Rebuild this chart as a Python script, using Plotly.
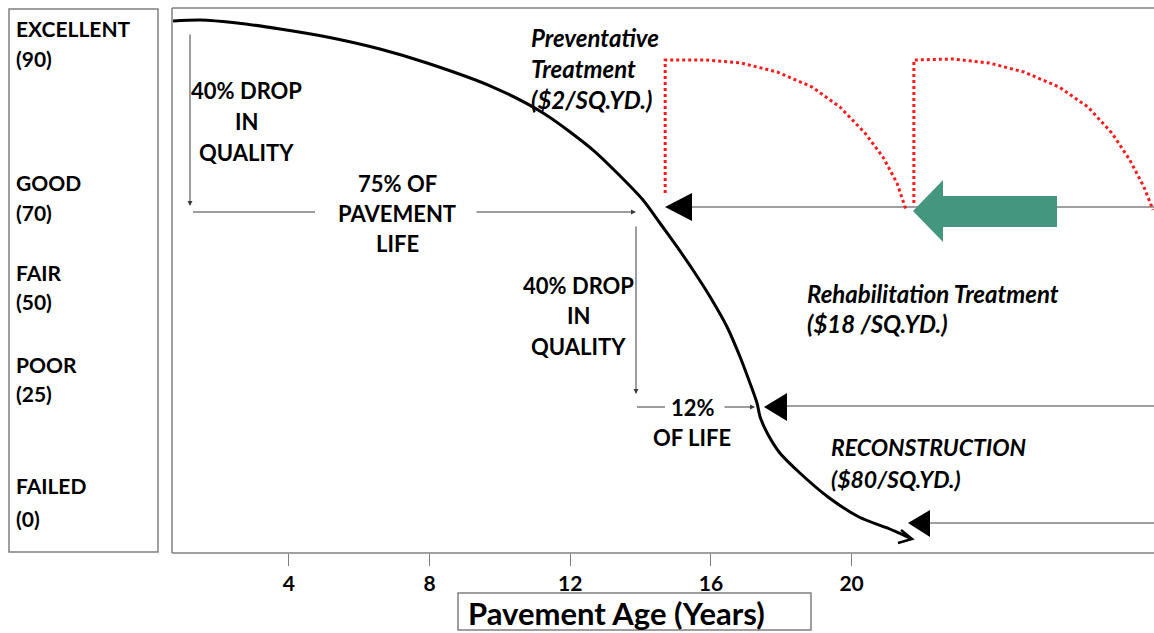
import plotly.graph_objects as go

# ---------------- data ----------------
condition_labels = ["EXCELLENT", "GOOD", "FAIR", "POOR", "FAILED"]
condition_values = [90, 70, 50, 25, 0]
tick_years = [4, 8, 12, 16, 20]

# main deterioration curve (age in years, condition index on a 0-100 plot scale)
curve_age = [0.71, 1.48, 2.53, 3.75, 5.09, 6.59, 7.93, 9.80, 11.23, 12.65, 13.42, 14.07,
             14.55, 15.04, 15.49, 15.98, 16.46, 16.83, 17.11, 17.31, 17.40, 17.60, 17.96, 18.53,
             19.33, 20.21, 21.01, 21.66]
curve_cond = [97.61, 97.80, 97.25, 96.15, 94.68, 92.48, 89.91, 85.50, 80.73, 73.94, 69.17, 64.77,
              60.55, 56.15, 51.93, 46.97, 41.47, 35.96, 31.19, 27.52, 24.95, 22.02, 18.35, 14.68,
              10.28, 6.61, 4.59, 2.75]

# preventative treatment cycles (red dotted)
prev1_age = [14.70, 14.70, 15.86, 16.86, 17.88, 18.88, 19.67, 20.38, 20.89, 21.29, 21.55]
prev1_cond = [66.06, 90.46, 90.46, 89.91, 88.26, 85.50, 81.83, 77.06, 72.66, 67.89, 62.94]
prev2_age = [21.77, 21.77, 22.88, 23.91, 24.90, 25.90, 26.72, 27.40, 27.91, 28.31, 28.57]
prev2_cond = [64.22, 90.46, 90.64, 89.91, 88.26, 85.50, 81.83, 77.06, 72.11, 67.16, 62.94]

# ---------------- geometry helpers (pixel -> axis) ----------------
W, H = 1154, 633
L, T, B = 172, 8, 553
X0, XS = 148.1, 35.175
YS = (B - T) / 100.0


def X(px):
    return (px - X0) / XS


def Y(py):
    return (B - py) / YS


def PX(px):
    return (px - L) / (W - L)


def PY(py):
    return (B - py) / (B - T)


GRAY = "#7f7f7f"
DARK = "#3a3a3a"
FONT = "Lato"

fig = go.Figure()

fig.add_trace(go.Scatter(x=prev1_age, y=prev1_cond, mode="lines",
                         line=dict(color="#ff1a1a", width=3, dash="dot"), hoverinfo="skip"))
fig.add_trace(go.Scatter(x=prev2_age, y=prev2_cond, mode="lines",
                         line=dict(color="#ff1a1a", width=3, dash="dot"), hoverinfo="skip"))
fig.add_trace(go.Scatter(x=curve_age, y=curve_cond, mode="lines", line_shape="spline",
                         line=dict(color="black", width=3, smoothing=0.8), hoverinfo="skip"))

shapes = []


def hline(x0, x1, y, color=GRAY, w=1.5):
    shapes.append(dict(type="line", xref="x", yref="y", x0=X(x0), x1=X(x1), y0=Y(y), y1=Y(y),
                       line=dict(color=color, width=w), layer="below"))


def poly(pts, fill):
    d = "M " + " L ".join(f"{X(a):.4f},{Y(b):.4f}" for a, b in pts) + " Z"
    shapes.append(dict(type="path", xref="x", yref="y", path=d, fillcolor=fill,
                       line=dict(width=0), layer="above"))


# treatment lines
hline(692, 1160, 207)
hline(787, 1160, 406)
hline(930, 1160, 523)
# green arrow
poly([(913, 211), (943, 180), (943, 196), (1057, 196), (1057, 227), (943, 227), (943, 242)], "#45967f")
# black triangles
poly([(665, 207), (692, 193), (692, 221)], "black")
poly([(764, 407), (787, 393), (787, 421)], "black")
poly([(908, 523), (930, 510), (930, 537)], "black")
# open V arrowhead at curve end
shapes.append(dict(type="path", xref="x", yref="y",
                   path=f"M {X(901):.4f},{Y(530):.4f} L {X(912):.4f},{Y(539):.4f} L {X(898):.4f},{Y(543):.4f}",
                   line=dict(color="black", width=2.5)))
# thin lines (no heads)
hline(193, 315, 212, DARK, 1)
hline(637, 665, 407, DARK, 1)

# plot frame and side boxes (paper)
shapes.append(dict(type="line", xref="paper", yref="paper", x0=0, x1=1.01, y0=1, y1=1,
                   line=dict(color=GRAY, width=1.5)))
shapes.append(dict(type="line", xref="paper", yref="paper", x0=0, x1=0, y0=0, y1=1,
                   line=dict(color=GRAY, width=1.5)))
shapes.append(dict(type="line", xref="paper", yref="paper", x0=0, x1=1.01, y0=0, y1=0,
                   line=dict(color=GRAY, width=1.5)))
shapes.append(dict(type="rect", xref="paper", yref="paper", x0=PX(9), x1=PX(158), y0=PY(552), y1=PY(9),
                   line=dict(color=GRAY, width=1.5)))
shapes.append(dict(type="rect", xref="paper", yref="paper", x0=PX(458), x1=PX(811), y0=PY(630), y1=PY(593),
                   line=dict(color=GRAY, width=1.5)))

annotations = []


def arrow(x, y, x0, y0):
    annotations.append(dict(x=X(x), y=Y(y), ax=X(x0), ay=Y(y0), xref="x", yref="y", axref="x", ayref="y",
                            text="", showarrow=True, arrowhead=2, arrowsize=1, arrowwidth=1,
                            arrowcolor=DARK, standoff=0))


arrow(190, 206, 190, 33)
arrow(636, 212, 475, 212)
arrow(636, 394, 636, 225)
arrow(755, 407, 723, 407)


def text(s, px, py, size=22, anchor="center", italic=False):
    t = f"<b>{s}</b>"
    if italic:
        t = f"<i>{t}</i>"
    annotations.append(dict(x=X(px), y=Y(py), xref="x", yref="y", text=t, showarrow=False,
                            xanchor=anchor, yanchor="middle",
                            font=dict(family=FONT, size=size, color="black")))


for i, line in enumerate(["40% DROP", "IN", "QUALITY"]):
    text(line, 246, 90 + 31 * i)
for i, line in enumerate(["75% OF", "PAVEMENT", "LIFE"]):
    text(line, 397, 183 + 30 * i)
for i, line in enumerate(["40% DROP", "IN", "QUALITY"]):
    text(line, 578, 285 + 30.5 * i)
text("12%", 693, 407)
text("OF LIFE", 692, 437)
for i, line in enumerate(["Preventative", "Treatment", "($2/SQ.YD.)"]):
    text(line, 529, 37 + 31 * i, size=24, anchor="left", italic=True)
text("Rehabilitation Treatment", 805, 293, size=24, anchor="left", italic=True)
text("($18 /SQ.YD.)", 805, 323, size=24, anchor="left", italic=True)
text("RECONSTRUCTION", 829, 447, size=23, anchor="left", italic=True)
text("($80/SQ.YD.)", 829, 479, size=23, anchor="left", italic=True)

# left condition box
label_rows = [(28, 58), (182, 212), (272, 302), (364, 393), (486, 518)]
for name, val, (y1, y2) in zip(condition_labels, condition_values, label_rows):
    for s, yy in ((name, y1), (f"({val})", y2)):
        annotations.append(dict(x=PX(14), y=PY(yy), xref="paper", yref="paper", text=f"<b>{s}</b>",
                                showarrow=False, xanchor="left", yanchor="middle",
                                font=dict(family=FONT, size=21, color="black")))

# x axis title box text
annotations.append(dict(x=PX(466), y=PY(613), xref="paper", yref="paper", text="<b>Pavement Age (Years)</b>",
                        showarrow=False, xanchor="left", yanchor="middle",
                        font=dict(family=FONT, size=31, color="black")))

fig.update_layout(
    width=W, height=H,
    margin=dict(l=L, r=0, t=T, b=H - B),
    plot_bgcolor="white", paper_bgcolor="white",
    showlegend=False,
    shapes=shapes,
    annotations=annotations,
    xaxis=dict(range=[X(L), X(W)], tickvals=tick_years, ticktext=[str(v) for v in tick_years],
               ticks="outside", ticklen=12, tickwidth=1, tickcolor=GRAY,
               showline=False, showgrid=False, zeroline=False,
               tickfont=dict(family=FONT, size=21, color="black", weight="bold")),
    yaxis=dict(range=[0, 100], showticklabels=False, showgrid=False, zeroline=False, showline=False,
               ticks=""),
)

fig.write_html("out.html", config={"displayModeBar": False},
               post_script="document.body.style.margin='0';document.body.style.overflow='hidden';")
